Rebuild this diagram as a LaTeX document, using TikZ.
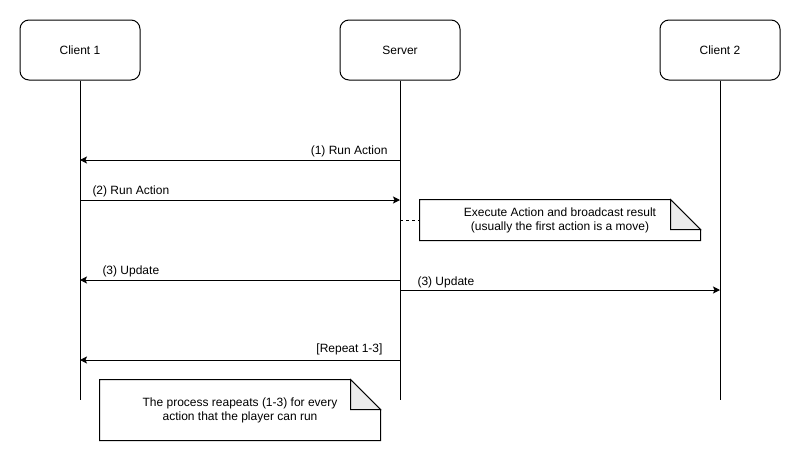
\documentclass[tikz,border=0pt]{standalone}
\usepackage{fontspec}
\setmainfont{Liberation Sans}
\usetikzlibrary{arrows.meta,calc}
\begin{document}
\begin{tikzpicture}[x=1pt,y=-1pt,line width=1pt,
  actor/.style={draw, rounded corners=9pt, minimum width=120pt, minimum height=60pt, inner sep=0pt, font=\fontsize{12}{14}\selectfont},
  msg/.style={-{Stealth[length=7pt,width=7pt,inset=1.5pt]}},
  lbl/.style={inner sep=0pt, font=\fontsize{12}{14}\selectfont},
  notetext/.style={inner sep=0pt, align=center, font=\fontsize{12}{14}\selectfont},
  foldfill/.style={fill=black!8, draw},
  dashline/.style={dash pattern=on 3pt off 3pt}]
\useasboundingbox (0,0) rectangle (801,461);
\fill[white] (0,0) rectangle (801,461);
% actors
\node[actor] (c1) at (80,50) {Client 1};
\node[actor] (srv) at (400,50) {Server};
\node[actor] (c2) at (720,50) {Client 2};
\coordinate (c1end) at (80,400);
\coordinate (srvend) at (400,400);
\coordinate (c2end) at (720,400);
\draw (c1) -- (c1end);
\draw (srv) -- (srvend);
\draw (c2) -- (c2end);
% message points
\coordinate (s1) at (400,160); \coordinate (a1) at (80,160);
\coordinate (a2) at (80,200);  \coordinate (s2) at (400,200);
\coordinate (s3) at (400,280); \coordinate (a3) at (80,280);
\coordinate (s4) at (400,290); \coordinate (b4) at (720,290);
\coordinate (s5) at (400,360); \coordinate (a5) at (80,360);
\coordinate (sn) at (400,220);
\draw[msg] (s1) -- (a1);
\draw[msg] (a2) -- (s2);
\draw[msg] (s3) -- (a3);
\draw[msg] (s4) -- (b4);
\draw[msg] (s5) -- (a5);
\node[lbl, anchor=base east] (l1) at (388,154) {(1) Run Action};
\node[lbl, anchor=base west] (l2) at (92,194) {(2) Run Action};
\node[lbl, anchor=base west] (l3) at (102,274.5) {(3) Update};
\node[lbl, anchor=base west] (l4) at (417,285) {(3) Update};
\node[lbl, anchor=base east] (l5) at (383,352.5) {[Repeat 1-3]};
% notes
\node[notetext, minimum width=280pt, minimum height=40pt] (n1) at (560,220)
  {Execute Action and broadcast result\\(usually the first action is a move)};
\draw (n1.north west) -- ($(n1.north east)+(-30,0)$) -- ($(n1.north east)+(0,30)$)
  -- (n1.south east) -- (n1.south west) -- cycle;
\draw[foldfill] ($(n1.north east)+(-30,0)$) -- ($(n1.north east)+(-30,30)$) -- ($(n1.north east)+(0,30)$) -- cycle;
\draw[dashline] (sn) -- (n1.west);
\node[notetext, minimum width=280pt, minimum height=60pt] (n2) at (240,410)
  {The process reapeats (1-3) for every\\action that the player can run};
\draw (n2.north west) -- ($(n2.north east)+(-30,0)$) -- ($(n2.north east)+(0,30)$)
  -- (n2.south east) -- (n2.south west) -- cycle;
\draw[foldfill] ($(n2.north east)+(-30,0)$) -- ($(n2.north east)+(-30,30)$) -- ($(n2.north east)+(0,30)$) -- cycle;
\end{tikzpicture}
\end{document}
